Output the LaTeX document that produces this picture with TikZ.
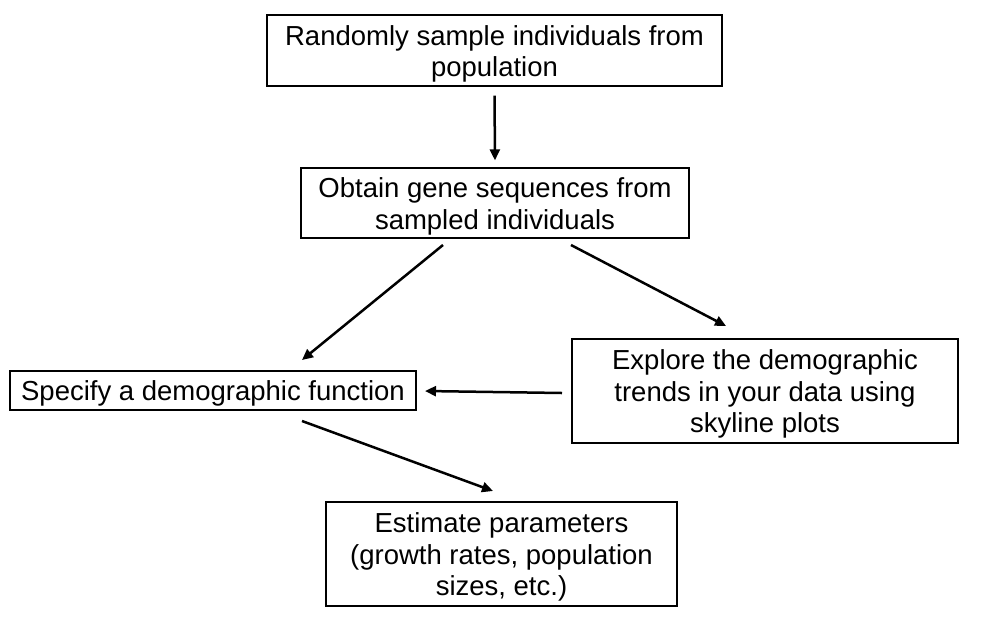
\documentclass[tikz,border=0pt]{standalone}
\usepackage{fontspec}
\setmainfont{Liberation Sans}
\usetikzlibrary{arrows.meta}
\newcommand\topstrut{\rule{0pt}{26.5pt}}
\begin{document}
\begin{tikzpicture}[x=1pt,y=-1pt,
  box/.style={draw=black,line width=1.3pt,align=center,inner sep=0pt,
    font=\fontsize{27.5}{31.5}\selectfont},
  flow/.style={line width=2.5pt,-{Triangle[length=11pt,width=10pt]}}]
\useasboundingbox (0,0) rectangle (1002,630);
\node[box,minimum width=455,minimum height=71] (b1) at (494.5,50.5) {\topstrut Randomly sample individuals from\\population};
\node[box,minimum width=388,minimum height=70] (b2) at (495,203) {\topstrut Obtain gene sequences from\\sampled individuals};
\node[box,minimum width=406,minimum height=39] (b3) at (213,390.5) {\topstrut Specify a demographic function};
\node[box,minimum width=386,minimum height=104] (b4) at (765,391) {\topstrut Explore the demographic\\trends in your data using\\skyline plots};
\node[box,minimum width=351,minimum height=104] (b5) at (501.5,554) {\topstrut Estimate parameters\\(growth rates, population\\sizes, etc.)};
\coordinate (a2s) at (443,245);
\coordinate (a2e) at (302,360);
\coordinate (a3s) at (571,245);
\coordinate (a3e) at (726,326);
\coordinate (a4s) at (562,393);
\coordinate (a4e) at (425,391);
\coordinate (a5s) at (302,421);
\coordinate (a5e) at (493,491);
\draw[flow,shorten <=9pt,shorten >=7pt] (b1.south) -- (b2.north);
\draw[flow] (a2s) -- (a2e);
\draw[flow] (a3s) -- (a3e);
\draw[flow] (a4s) -- (a4e);
\draw[flow] (a5s) -- (a5e);
\end{tikzpicture}
\end{document}
